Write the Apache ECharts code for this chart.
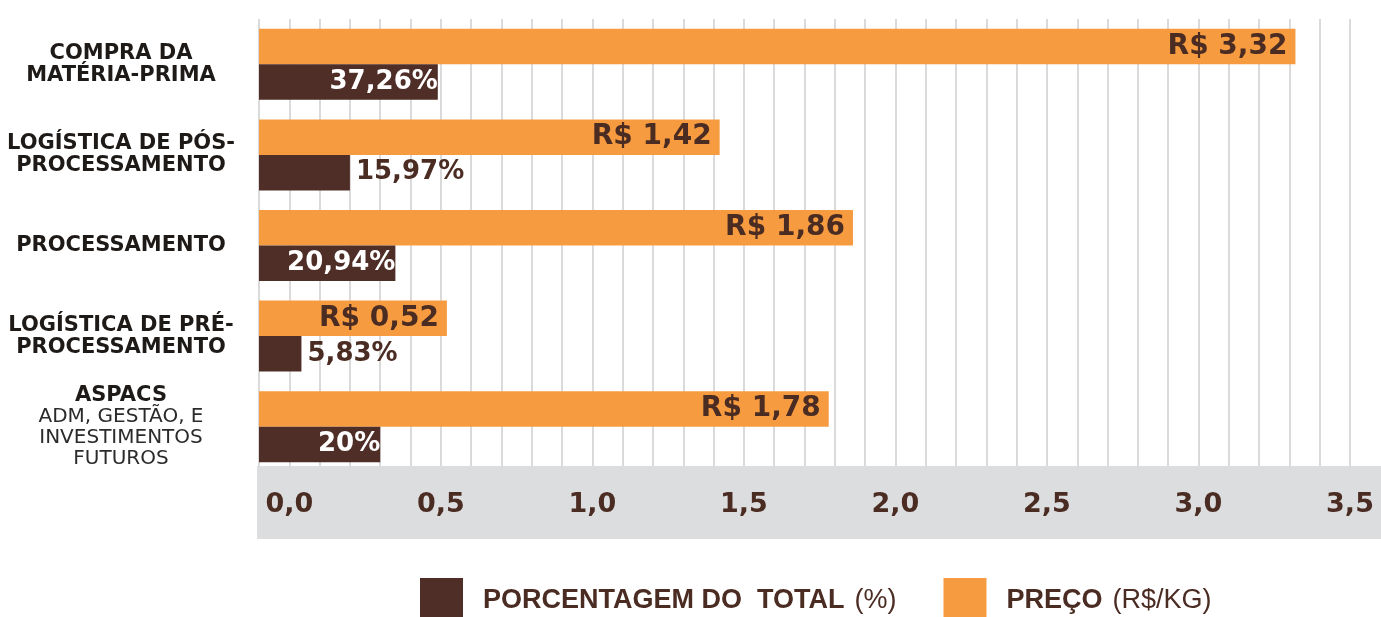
<!DOCTYPE html>
<html>
<head>
<meta charset="utf-8">
<script src="https://cdn.jsdelivr.net/npm/echarts@6/dist/echarts.min.js"></script>
<style>
  html, body { margin: 0; padding: 0; background: #fff; }
  #chart { width: 1381px; height: 617px; }
</style>
</head>
<body>
<div id="chart"></div>
<script>
// categorias (de cima para baixo)
const categories = [
  "COMPRA DA\nMATÉRIA-PRIMA",
  "LOGÍSTICA DE PÓS-\nPROCESSAMENTO",
  "PROCESSAMENTO",
  "LOGÍSTICA DE PRÉ-\nPROCESSAMENTO",
  "ASPACS"
];
const categoryNotes = ["", "", "", "", "ADM, GESTÃO, E\nINVESTIMENTOS\nFUTUROS"];

// preço (R$/kg)
const precoValues = [3.32, 1.42, 1.86, 0.52, 1.78];
// porcentagem do total (texto) e comprimento da barra lido no eixo
const pctValues = [37.26, 15.97, 20.94, 5.83, 20];
const pctBarLengths = [0.49, 0.2, 0.35, 0.04, 0.3];

const seriesNames = ["PORCENTAGEM DO  TOTAL", "PREÇO"];
const seriesUnits = ["(%)", "(R$/KG)"];

const xMin = -0.1;
const xMax = 3.5;

const BROWN = "#4E2E26";
const ORANGE = "#F79B40";
const TEXT_BROWN = "#4B2C22";

const fmtNum = (v, d) => v.toFixed(d).replace(".", ",");
const fmtPct = (v) => (Number.isInteger(v) ? String(v) : fmtNum(v, 2)) + "%";

let chart = echarts.init(document.getElementById("chart"));

let option = {
  animation: false,
  grid: { left: 259, right: 31, top: 19, bottom: 145, outerBoundsMode: "none", containLabel: false },
  graphic: [
    {
      // faixa cinza do eixo
      type: "rect",
      z: 5,
      shape: { x: 257, y: 466, width: 1124, height: 73 },
      style: { fill: "#DCDDDF" }
    }
  ],
  legend: {
    data: seriesNames,
    left: 415,
    top: 573,
    icon: "rect",
    itemWidth: 43,
    itemHeight: 43,
    itemGap: 47,
    formatter: (name) => {
      let i = seriesNames.indexOf(name);
      return "{b|" + name + "}{n|" + seriesUnits[i] + "}";
    },
    textStyle: {
      rich: {
        b: {
          fontFamily: "Liberation Sans",
          fontWeight: "bold",
          fontSize: 27,
          color: TEXT_BROWN,
          padding: [3, 0, 0, 15]
        },
        n: {
          fontFamily: "Liberation Sans",
          fontWeight: "normal",
          fontSize: 27,
          color: TEXT_BROWN,
          padding: [3, 0, 0, 10]
        }
      }
    }
  },
  xAxis: [
    {
      type: "value",
      position: "bottom",
      min: xMin,
      max: xMax,
      interval: 0.1,
      startValue: xMin,
      axisLine: { show: false },
      axisTick: { show: false },
      axisLabel: { show: false },
      splitLine: { show: true, lineStyle: { color: "#DADADA", width: 2 } }
    },
    {
      type: "value",
      position: "bottom",
      offset: 0,
      min: xMin,
      max: xMax,
      interval: 0.1,
      z: 10,
      axisLine: { show: false },
      axisTick: { show: false },
      splitLine: { show: false },
      axisLabel: {
        margin: 19,
        fontFamily: "DejaVu Sans",
        fontWeight: "bold",
        fontSize: 27,
        color: TEXT_BROWN,
        formatter: (v) => {
          let h = v * 2;
          if (Math.abs(h - Math.round(h)) > 1e-6 || v < -1e-6) return "";
          return fmtNum(v, 1);
        }
      }
    }
  ],
  yAxis: {
    type: "category",
    inverse: true,
    data: categories,
    axisLine: { show: false },
    axisTick: { show: false },
    axisLabel: {
      margin: 138,
      align: "center",
      formatter: (value, idx) => {
        let s = value.split("\n").map((l) => "{b|" + l + "}").join("\n");
        if (categoryNotes[idx]) {
          s += "\n" + categoryNotes[idx].split("\n").map((l) => "{n|" + l + "}").join("\n");
        }
        return s;
      },
      rich: {
        b: {
          fontFamily: "DejaVu Sans",
          fontWeight: "bold",
          fontSize: 21,
          lineHeight: 22,
          color: "#1E1A18",
          align: "center"
        },
        n: {
          fontFamily: "DejaVu Sans",
          fontWeight: "normal",
          fontSize: 20,
          lineHeight: 21,
          color: "#2B2B2B",
          align: "center"
        }
      }
    }
  },
  series: [
    {
      name: seriesNames[1],
      type: "bar",
      xAxisIndex: 0,
      barWidth: 35.5,
      barGap: "0%",
      itemStyle: { color: ORANGE },
      label: {
        show: true,
        position: "insideRight",
        distance: 8,
        fontFamily: "DejaVu Sans",
        fontWeight: "bold",
        fontSize: 28,
        color: TEXT_BROWN,
        formatter: (p) => "R$ " + fmtNum(p.value, 2)
      },
      data: precoValues
    },
    {
      name: seriesNames[0],
      type: "bar",
      xAxisIndex: 0,
      barWidth: 35.5,
      barGap: "0%",
      itemStyle: { color: BROWN },
      data: pctBarLengths.map((len, i) => {
        let inside = len >= 0.25;
        return {
          value: len,
          label: {
            show: true,
            position: inside ? "insideRight" : "right",
            distance: inside ? 0 : 6,
            fontFamily: "DejaVu Sans",
            fontWeight: "bold",
            fontSize: 26,
            color: inside ? "#FFFFFF" : TEXT_BROWN,
            formatter: () => fmtPct(pctValues[i])
          }
        };
      })
    }
  ]
};

chart.setOption(option);
</script>
</body>
</html>
